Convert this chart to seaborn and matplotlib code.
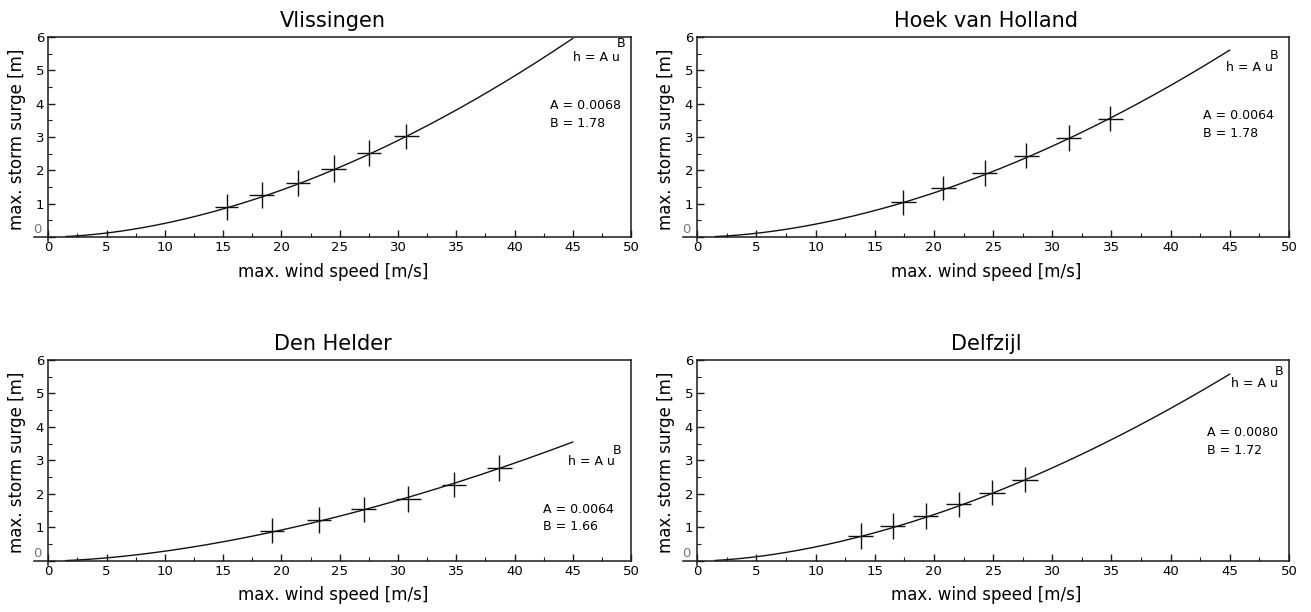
import numpy as np
import pandas as pd
import matplotlib
matplotlib.use("Agg")
import matplotlib.pyplot as plt
import seaborn as sns
from matplotlib.ticker import MultipleLocator, FuncFormatter

# fitted relation h = A u^B per station
stations = ["Vlissingen", "Hoek van Holland", "Den Helder", "Delfzijl"]
coef_a = [0.0068, 0.0064, 0.0064, 0.0080]
coef_b = [1.78, 1.78, 1.66, 1.72]
labels_a = ["A = 0.0068", "A = 0.0064", "A = 0.0064", "A = 0.0080"]
labels_b = ["B = 1.78", "B = 1.78", "B = 1.66", "B = 1.72"]

# observed classes (wind speed, surge) with error half-widths
wind_vlissingen = [15.3, 18.3, 21.4, 24.5, 27.5, 30.7]
surge_vlissingen = [0.90, 1.25, 1.62, 2.05, 2.52, 3.02]
wind_hoek = [17.4, 20.8, 24.3, 27.8, 31.4, 34.9]
surge_hoek = [1.04, 1.47, 1.92, 2.44, 2.97, 3.55]
wind_helder = [19.2, 23.2, 27.05, 30.9, 34.8, 38.7]
surge_helder = [0.90, 1.22, 1.54, 1.85, 2.28, 2.78]
wind_delfzijl = [13.8, 16.5, 19.3, 22.1, 24.9, 27.7]
surge_delfzijl = [0.75, 1.04, 1.34, 1.69, 2.04, 2.43]

xerr_vlissingen = [1.0, 1.05, 1.05, 1.08, 1.05, 1.08]
yerr_vlissingen = [0.40, 0.39, 0.38, 0.40, 0.39, 0.38]
xerr_hoek = [1.05, 1.05, 1.05, 1.05, 1.05, 1.05]
yerr_hoek = [0.37, 0.37, 0.38, 0.38, 0.38, 0.375]
xerr_helder = [1.05, 1.05, 1.05, 1.05, 1.05, 1.05]
yerr_helder = [0.37, 0.38, 0.38, 0.38, 0.38, 0.38]
xerr_delfzijl = [1.05, 1.05, 1.05, 1.05, 1.08, 1.1]
yerr_delfzijl = [0.38, 0.38, 0.38, 0.38, 0.38, 0.38]

winds = [wind_vlissingen, wind_hoek, wind_helder, wind_delfzijl]
surges = [surge_vlissingen, surge_hoek, surge_helder, surge_delfzijl]
xerrs = [xerr_vlissingen, xerr_hoek, xerr_helder, xerr_delfzijl]
yerrs = [yerr_vlissingen, yerr_hoek, yerr_helder, yerr_delfzijl]

# text placement (data coords): formula, superscript, A, B
formula_pos = [(45.0, 5.4), (44.7, 5.1), (44.6, 2.98), (45.1, 5.3)]
sup_pos = [(48.8, 5.8), (48.4, 5.44), (48.4, 3.31), (48.8, 5.65)]
coef_pos = [(43.0, 3.96, 3.42), (42.7, 3.66, 3.12), (42.4, 1.53, 1.02), (43.1, 3.84, 3.29)]

sns.set_style("ticks")
plt.rcParams["font.family"] = ["DejaVu Sans"]
plt.rcParams["text.color"] = "black"
plt.rcParams["axes.labelcolor"] = "black"
plt.rcParams["xtick.color"] = "black"
plt.rcParams["ytick.color"] = "black"

fig = plt.figure(figsize=(13.11, 6.12), dpi=100)
rects = [
    [0.0262, 0.6062, 0.4552, 0.3333],
    [0.5210, 0.6062, 0.4622, 0.3333],
    [0.0262, 0.0768, 0.4552, 0.3350],
    [0.5210, 0.0768, 0.4622, 0.3350],
]

u = np.linspace(1.5, 45, 300)
yfmt = FuncFormatter(lambda v, p: "" if abs(v) < 1e-9 else f"{v:g}")

for i, name in enumerate(stations):
    ax = fig.add_axes(rects[i])
    fit = pd.DataFrame({"u": u, "h": coef_a[i] * u ** coef_b[i]})
    sns.lineplot(data=fit, x="u", y="h", ax=ax, color="#111111", linewidth=1.0)
    ax.errorbar(winds[i], surges[i], xerr=xerrs[i], yerr=yerrs[i], fmt="none",
                ecolor="#111111", elinewidth=1.0, capsize=0)

    ax.set_xlim(-1.2, 50)
    ax.set_ylim(-0.12, 6)
    ax.spines["left"].set_position(("data", 0))
    ax.spines["bottom"].set_position(("data", 0))
    ax.spines["top"].set_bounds(0, 50)
    ax.spines["right"].set_bounds(0, 6)
    for s in ax.spines.values():
        s.set_color("#1a1a1a")
        s.set_linewidth(1.1)

    ax.xaxis.set_major_locator(MultipleLocator(5))
    ax.xaxis.set_minor_locator(MultipleLocator(2.5))
    ax.yaxis.set_major_locator(MultipleLocator(1))
    ax.yaxis.set_minor_locator(MultipleLocator(0.5))
    ax.yaxis.set_major_formatter(yfmt)
    ax.tick_params(which="both", direction="in", top=False, right=False,
                   color="#1a1a1a", labelsize=9.5, pad=3)
    ax.tick_params(which="major", length=5, width=1)
    ax.tick_params(which="minor", length=3, width=0.8)
    # the zero label of the y axis sits a little above the baseline
    ax.text(-0.55, 0.22, "0", fontsize=9.5, color="#777777", ha="right", va="center")

    ax.set_title(name, fontsize=15, pad=7)
    ax.set_xlabel("max. wind speed [m/s]", fontsize=12, labelpad=6)
    ax.set_ylabel("max. storm surge [m]", fontsize=12, labelpad=7)

    fx, fy = formula_pos[i]
    ax.text(fx, fy, "h = A u", fontsize=9, va="center", ha="left")
    sx, sy = sup_pos[i]
    ax.text(sx, sy, "B", fontsize=9, va="center", ha="left")
    cx, ay, by = coef_pos[i]
    ax.text(cx, ay, labels_a[i], fontsize=9, va="center", ha="left")
    ax.text(cx, by, labels_b[i], fontsize=9, va="center", ha="left")

fig.savefig("out.png", dpi=100)
plt.close(fig)
